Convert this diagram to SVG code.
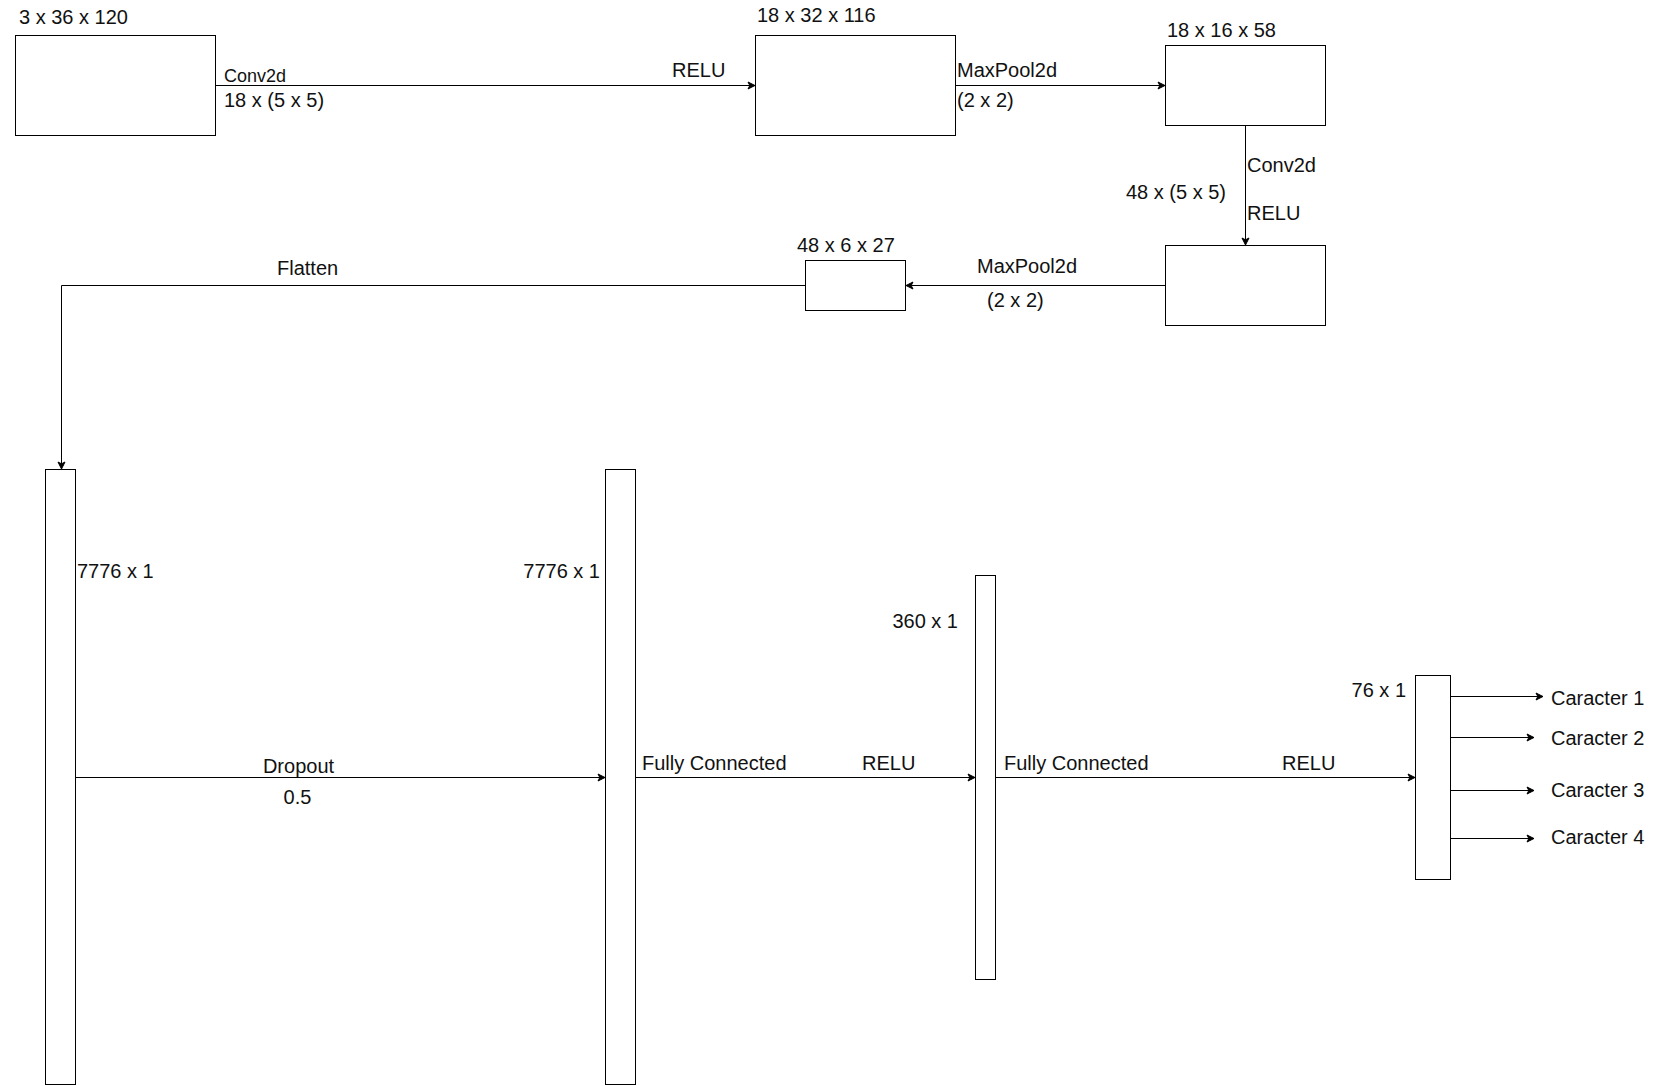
<svg xmlns="http://www.w3.org/2000/svg" width="1660" height="1086" viewBox="0 0 1660 1086">
<style>
  .box { fill: #ffffff; stroke: #000000; stroke-width: 1; }
  .edge { fill: none; stroke: #000000; stroke-width: 1; }
  text { font-family: "Liberation Sans", Arial, sans-serif; font-size: 20px; fill: #111111; }
  .sm { font-size: 18px; }
  .end { text-anchor: end; }
  .mid { text-anchor: middle; }
</style>
<defs>
  <marker id="arrow" markerUnits="userSpaceOnUse" markerWidth="10" markerHeight="10" viewBox="-8 -5 10 10" refX="0" refY="0" orient="auto">
    <path d="M -7 -3.5 L 0 0 L -7 3.5 L -5.2 0 Z" fill="#000000" stroke="#000000" stroke-width="1"/>
  </marker>
</defs>
<rect width="1660" height="1086" fill="#ffffff"/>

<g id="connectors">
  <path class="edge" d="M 215.5 85.5 L 755 85.5" marker-end="url(#arrow)"/>
  <path class="edge" d="M 955.5 85.5 L 1165 85.5" marker-end="url(#arrow)"/>
  <path class="edge" d="M 1245.5 125.5 L 1245.5 245" marker-end="url(#arrow)"/>
  <path class="edge" d="M 1165.5 285.5 L 906 285.5" marker-end="url(#arrow)"/>
  <path class="edge" d="M 805.5 285.5 L 61.5 285.5 L 61.5 469" marker-end="url(#arrow)"/>
  <path class="edge" d="M 75.5 777.5 L 605 777.5" marker-end="url(#arrow)"/>
  <path class="edge" d="M 635.5 777.5 L 975 777.5" marker-end="url(#arrow)"/>
  <path class="edge" d="M 995.5 777.5 L 1415 777.5" marker-end="url(#arrow)"/>
  <path class="edge" d="M 1450.5 696.5 L 1543 696.5" marker-end="url(#arrow)"/>
  <path class="edge" d="M 1450.5 737.5 L 1534 737.5" marker-end="url(#arrow)"/>
  <path class="edge" d="M 1450.5 790.5 L 1534 790.5" marker-end="url(#arrow)"/>
  <path class="edge" d="M 1450.5 838.5 L 1534 838.5" marker-end="url(#arrow)"/>
  <g id="edge-labels">
    <text class="sm" x="224" y="81.5">Conv2d</text>
    <text x="224" y="106.5">18 x (5 x 5)</text>
    <text x="672" y="77">RELU</text>
    <text x="957" y="77">MaxPool2d</text>
    <text x="957" y="106.5">(2 x 2)</text>
    <text x="1247" y="172">Conv2d</text>
    <text x="1247" y="220">RELU</text>
    <text class="end" x="1226" y="199">48 x (5 x 5)</text>
    <text x="977" y="273">MaxPool2d</text>
    <text x="987" y="306.5">(2 x 2)</text>
    <text x="277" y="275">Flatten</text>
    <text class="mid" x="298.5" y="772.5">Dropout</text>
    <text class="mid" x="297.5" y="803.5">0.5</text>
    <text x="642" y="769.5">Fully Connected</text>
    <text x="862" y="769.5">RELU</text>
    <text x="1004" y="769.5">Fully Connected</text>
    <text x="1282" y="769.5">RELU</text>
  </g>
</g>

<g id="input">
  <rect class="box" x="15.5" y="35.5" width="200" height="100"/>
  <text x="19" y="24">3 x 36 x 120</text>
</g>
<g id="conv1">
  <rect class="box" x="755.5" y="35.5" width="200" height="100"/>
  <text x="757" y="22">18 x 32 x 116</text>
</g>
<g id="pool1">
  <rect class="box" x="1165.5" y="45.5" width="160" height="80"/>
  <text x="1167" y="36.5">18 x 16 x 58</text>
</g>
<g id="conv2">
  <rect class="box" x="1165.5" y="245.5" width="160" height="80"/>
</g>
<g id="pool2">
  <rect class="box" x="805.5" y="260.5" width="100" height="50"/>
  <text x="797" y="251.5">48 x 6 x 27</text>
</g>
<g id="flat">
  <rect class="box" x="45.5" y="469.5" width="30" height="615"/>
  <text x="77" y="578">7776 x 1</text>
</g>
<g id="dropout">
  <rect class="box" x="605.5" y="469.5" width="30" height="615"/>
  <text class="end" x="600" y="578">7776 x 1</text>
</g>
<g id="fc1">
  <rect class="box" x="975.5" y="575.5" width="20" height="404"/>
  <text class="end" x="958" y="628">360 x 1</text>
</g>
<g id="fc2">
  <rect class="box" x="1415.5" y="675.5" width="35" height="204"/>
  <text class="end" x="1406" y="697">76 x 1</text>
</g>
<g id="outputs">
  <text x="1551" y="705">Caracter 1</text>
  <text x="1551" y="745">Caracter 2</text>
  <text x="1551" y="797">Caracter 3</text>
  <text x="1551" y="843.5">Caracter 4</text>
</g>
</svg>
